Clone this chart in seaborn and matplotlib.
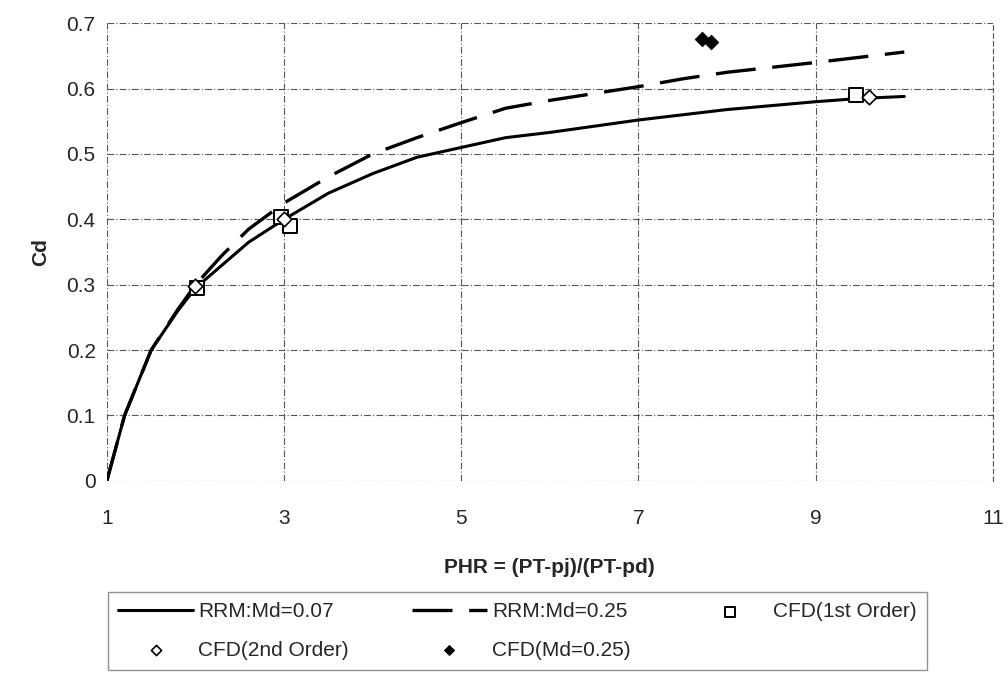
import seaborn as sns
import pandas as pd
import matplotlib.pyplot as plt

sns.set_style("white")
plt.rcParams['font.family'] = ['Liberation Sans', 'DejaVu Sans']

# RRM curves
phr_07 = [1.0, 1.2, 1.5, 1.8, 2.0, 2.3, 2.6, 3.0, 3.5, 4.0, 4.5, 5.0, 5.5, 6.0, 7.0, 8.0, 9.0, 9.5, 10.0]
cd_07 = [0.0, 0.10, 0.20, 0.26, 0.295, 0.33, 0.365, 0.40, 0.44, 0.47, 0.495, 0.51, 0.525, 0.533, 0.552, 0.568, 0.58, 0.585, 0.588]
phr_25 = [1.0, 1.2, 1.5, 1.8, 2.0, 2.3, 2.6, 3.0, 3.5, 4.0, 4.5, 5.0, 5.5, 6.0, 7.0, 7.5, 8.0, 9.0, 10.0]
cd_25 = [0.0, 0.10, 0.20, 0.262, 0.30, 0.345, 0.385, 0.425, 0.465, 0.50, 0.525, 0.548, 0.57, 0.582, 0.603, 0.615, 0.625, 0.64, 0.656]

# CFD points
cfd1_x = [2.02, 2.97, 3.07, 9.45]
cfd1_y = [0.295, 0.403, 0.39, 0.59]
cfd2_x = [2.0, 3.0, 9.6]
cfd2_y = [0.298, 0.40, 0.587]
cfd25_x = [7.72, 7.82]
cfd25_y = [0.676, 0.672]

fig = plt.figure(figsize=(10.08, 6.84), dpi=100)
ax = fig.add_axes([0.106, 0.297, 0.879, 0.669])

sns.lineplot(x=phr_07, y=cd_07, ax=ax, color='black', lw=2.2, label='RRM:Md=0.07', sort=False)
sns.lineplot(x=phr_25, y=cd_25, ax=ax, color='black', lw=2.4, label='RRM:Md=0.25', sort=False)
ax.lines[1].set_dashes([12, 5])
sns.scatterplot(x=cfd1_x, y=cfd1_y, ax=ax, marker='s', s=110, facecolor='white',
                edgecolor='black', linewidth=1.4, label='CFD(1st Order)', zorder=4)
sns.scatterplot(x=cfd2_x, y=cfd2_y, ax=ax, marker='D', s=55, facecolor='white',
                edgecolor='black', linewidth=1.2, label='CFD(2nd Order)', zorder=5)
sns.scatterplot(x=cfd25_x, y=cfd25_y, ax=ax, marker='D', s=55, color='black',
                edgecolor='black', label='CFD(Md=0.25)', zorder=5)

ax.set_xlim(1, 11)
ax.set_ylim(0, 0.7)
ax.set_xticks([1, 3, 5, 7, 9, 11])
ax.set_yticks([0, 0.1, 0.2, 0.3, 0.4, 0.5, 0.6, 0.7])
ax.set_yticklabels(['0', '0.1', '0.2', '0.3', '0.4', '0.5', '0.6', '0.7'])
ax.tick_params(labelsize=15, length=0)
ax.tick_params(axis='x', pad=20)
ax.tick_params(axis='y', pad=8)
ax.grid(True, color='#555555', lw=0.8, ls=(0, (6, 2, 1, 2)))
for side in ['left', 'bottom', 'top']:
    ax.spines[side].set_visible(False)
ax.spines['right'].set_linestyle((0, (4, 3)))
ax.spines['right'].set_color('#555555')

ax.set_xlabel('PHR = (PT-pj)/(PT-pd)', fontsize=15, fontweight='bold', labelpad=22)
ax.set_ylabel('Cd', fontsize=15, fontweight='bold', labelpad=12)

handles, labels = ax.get_legend_handles_labels()
ax.get_legend().remove()
# reorder so the legend fills row by row
order = [0, 3, 1, 4, 2]
leg = fig.legend([handles[i] for i in order], [labels[i] for i in order],
                 loc='upper left', bbox_to_anchor=(0.107, 0.135),
                 ncol=3, fontsize=15, frameon=True, fancybox=False,
                 edgecolor='#777777', handlelength=3.6, handletextpad=0.25,
                 columnspacing=3.0, borderaxespad=0, borderpad=0.5,
                 labelspacing=0.95, markerscale=0.7)

fig.savefig('out.png', dpi=100)
